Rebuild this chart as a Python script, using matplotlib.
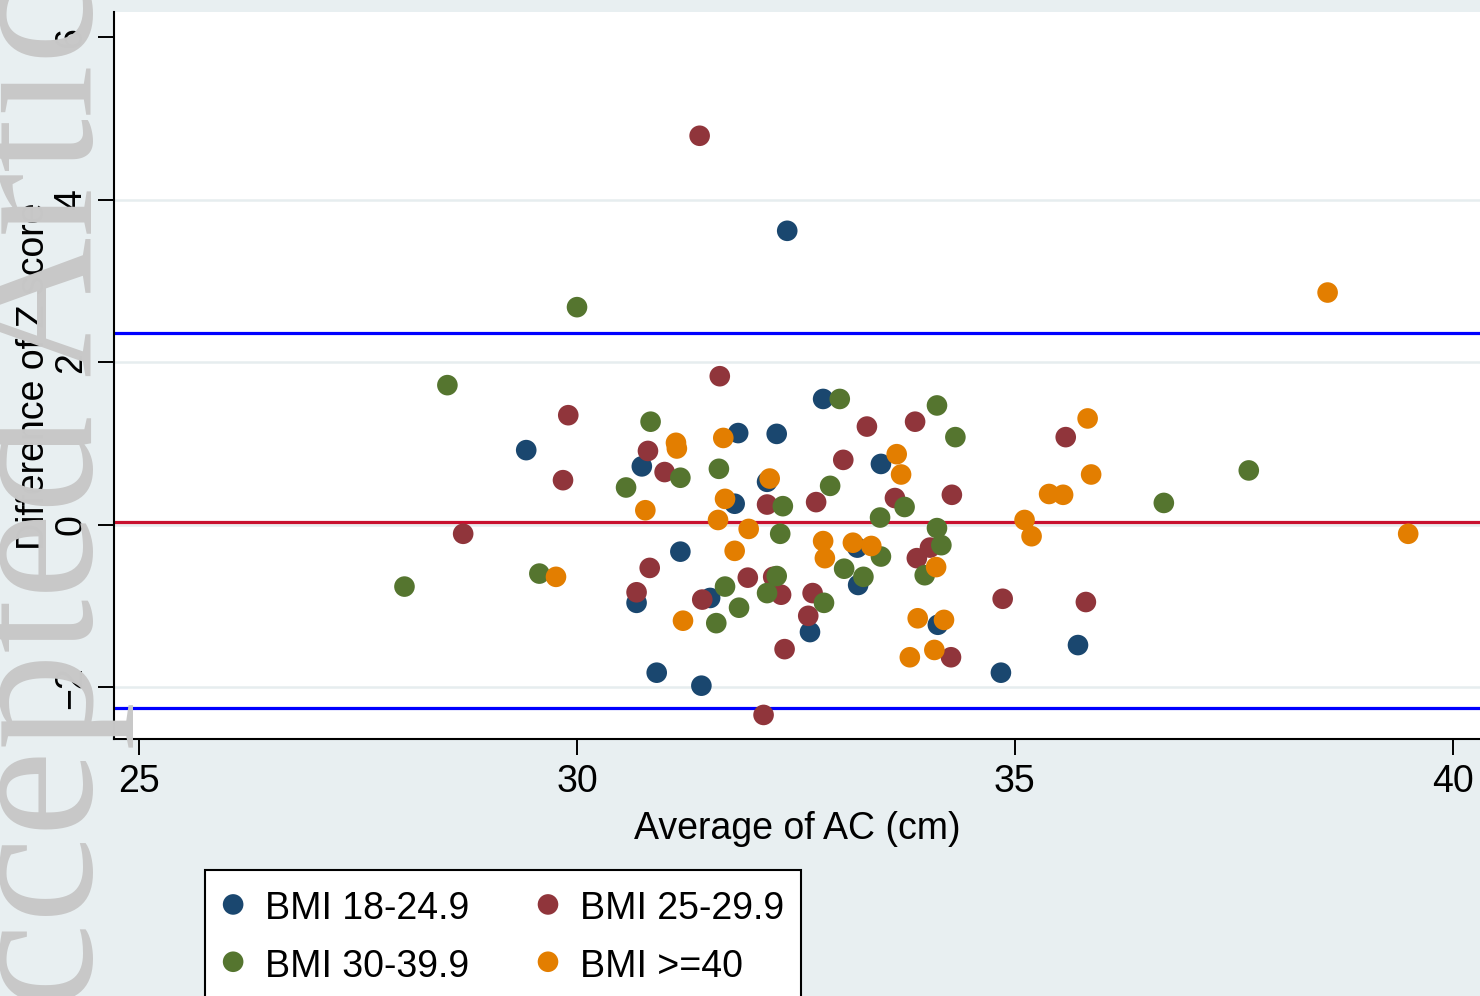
import matplotlib.pyplot as plt

# average of AC (cm) and difference of Z score, per BMI group
bmi1_x = [32.40, 29.42, 30.74, 31.84, 32.28, 32.81, 32.17, 31.80, 33.47, 31.18,
          30.68, 31.52, 33.20, 33.21, 32.66, 34.12, 35.72, 34.84, 30.91, 31.42]
bmi1_y = [3.62, 0.92, 0.72, 1.13, 1.12, 1.55, 0.53, 0.26, 0.75, -0.33,
          -0.96, -0.90, -0.28, -0.74, -1.32, -1.23, -1.48, -1.82, -1.82, -1.98]

bmi2_x = [31.40, 29.90, 29.84, 28.70, 30.81, 31.00, 31.63, 32.17, 32.73, 33.04,
          33.31, 33.86, 33.63, 34.28, 35.58, 30.83, 30.68, 31.43, 31.95, 32.24,
          32.33, 32.69, 32.64, 32.37, 33.88, 34.03, 34.27, 34.86, 35.81, 32.13]
bmi2_y = [4.79, 1.35, 0.55, -0.11, 0.91, 0.65, 1.83, 0.25, 0.28, 0.80,
          1.21, 1.27, 0.33, 0.37, 1.08, -0.53, -0.83, -0.92, -0.65, -0.64,
          -0.86, -0.84, -1.12, -1.53, -0.41, -0.28, -1.63, -0.91, -0.95, -2.34]

bmi3_x = [30.00, 28.52, 28.03, 29.57, 30.84, 30.56, 31.18, 31.62, 32.35, 32.32,
          32.89, 33.00, 34.11, 34.32, 33.74, 33.46, 34.11, 34.16, 33.97, 36.70,
          37.67, 31.69, 31.59, 31.85, 32.28, 32.17, 32.82, 33.05, 33.27, 33.47]
bmi3_y = [2.68, 1.72, -0.76, -0.60, 1.27, 0.46, 0.58, 0.69, 0.23, -0.11,
          0.48, 1.55, 1.47, 1.08, 0.22, 0.09, -0.04, -0.25, -0.62, 0.27,
          0.67, -0.76, -1.21, -1.02, -0.63, -0.84, -0.96, -0.54, -0.64, -0.39]

bmi4_x = [38.57, 39.49, 29.76, 30.78, 31.13, 31.14, 31.67, 31.69, 31.61, 31.96,
          32.20, 31.80, 31.21, 32.81, 32.83, 33.15, 33.36, 33.65, 33.70, 34.10,
          33.89, 34.19, 33.80, 34.08, 35.83, 35.87, 35.39, 35.55, 35.11, 35.19]
bmi4_y = [2.86, -0.11, -0.64, 0.18, 1.01, 0.94, 1.07, 0.32, 0.06, -0.05,
          0.57, -0.32, -1.18, -0.20, -0.41, -0.22, -0.26, 0.87, 0.62, -0.52,
          -1.15, -1.17, -1.63, -1.54, 1.31, 0.62, 0.38, 0.37, 0.06, -0.14]

mean_diff = 0.04
loa_upper = 2.36
loa_lower = -2.25

x_ticks = [25, 30, 35, 40]
y_ticks = [-2, 0, 2, 4, 6]

plt.rcParams['font.family'] = ['Liberation Sans', 'DejaVu Sans']

W, H = 1480, 996
fig = plt.figure(figsize=(W / 100, H / 100), dpi=100)
fig.patch.set_facecolor('#e8eff1')

# plot region (pixel edges)
ax = fig.add_axes([113.7 / W, 1 - 739.3 / H, 1 - 113.7 / W, (739.3 - 12.3) / H])
ax.set_facecolor('white')
ax.set_xlim(24.71, 40.31)
ax.set_ylim(-2.64, 6.31)

for yv in [-2, 0, 2, 4]:
    ax.axhline(yv, color='#e6edef', lw=1.8, zorder=0)

ax.axhline(mean_diff, color='#c8102e', lw=2.3, zorder=1)
ax.axhline(loa_upper, color='#0000ff', lw=2.3, zorder=1)
ax.axhline(loa_lower, color='#0000ff', lw=2.3, zorder=1)

ms = 220
h1 = ax.scatter(bmi1_x, bmi1_y, s=ms, color='#1a476f', edgecolors='none', zorder=3)
h2 = ax.scatter(bmi2_x, bmi2_y, s=ms, color='#90353b', edgecolors='none', zorder=3)
h3 = ax.scatter(bmi3_x, bmi3_y, s=ms, color='#55752f', edgecolors='none', zorder=3)
h4 = ax.scatter(bmi4_x, bmi4_y, s=ms, color='#e37e00', edgecolors='none', zorder=3)

for s in ['top', 'right']:
    ax.spines[s].set_visible(False)
for s in ['left', 'bottom']:
    ax.spines[s].set_linewidth(1.5)
    ax.spines[s].set_color('black')

ax.set_xticks(x_ticks)
ax.set_yticks(y_ticks)
ax.tick_params(axis='both', length=11.5, width=1.4, labelsize=27, colors='black')
ax.tick_params(axis='x', pad=6.5)
ax.tick_params(axis='y', pad=6, labelrotation=90)
for lbl in ax.get_yticklabels():
    lbl.set_va('center')

ax.set_xlabel('Average of AC (cm)', fontsize=27, labelpad=8)
ax.set_ylabel('Difference of Z score', fontsize=27, labelpad=1)

leg = fig.legend([h1, h3, h2, h4],
                 ['BMI 18-24.9', 'BMI 30-39.9', 'BMI 25-29.9', 'BMI >=40'],
                 ncol=2, loc='upper left',
                 bbox_to_anchor=(205 / W, 1 - 870 / H), bbox_transform=fig.transFigure,
                 frameon=True, fancybox=False, edgecolor='black', facecolor='white',
                 framealpha=1, borderpad=0.45, handlelength=0.6, handleheight=1.25,
                 handletextpad=0.55, columnspacing=1.8, labelspacing=0.45,
                 fontsize=27, borderaxespad=0)
leg.get_frame().set_linewidth(1.5)

# journal watermark over the left margin
fig.text(92 / W, 1 - 493 / H, 'Accepted Article', rotation=90, rotation_mode='anchor',
         ha='center', va='baseline', fontsize=140, color='#c8c8c8',
         family='Liberation Serif', zorder=10)

fig.savefig('out.png', dpi=100, facecolor=fig.get_facecolor())
